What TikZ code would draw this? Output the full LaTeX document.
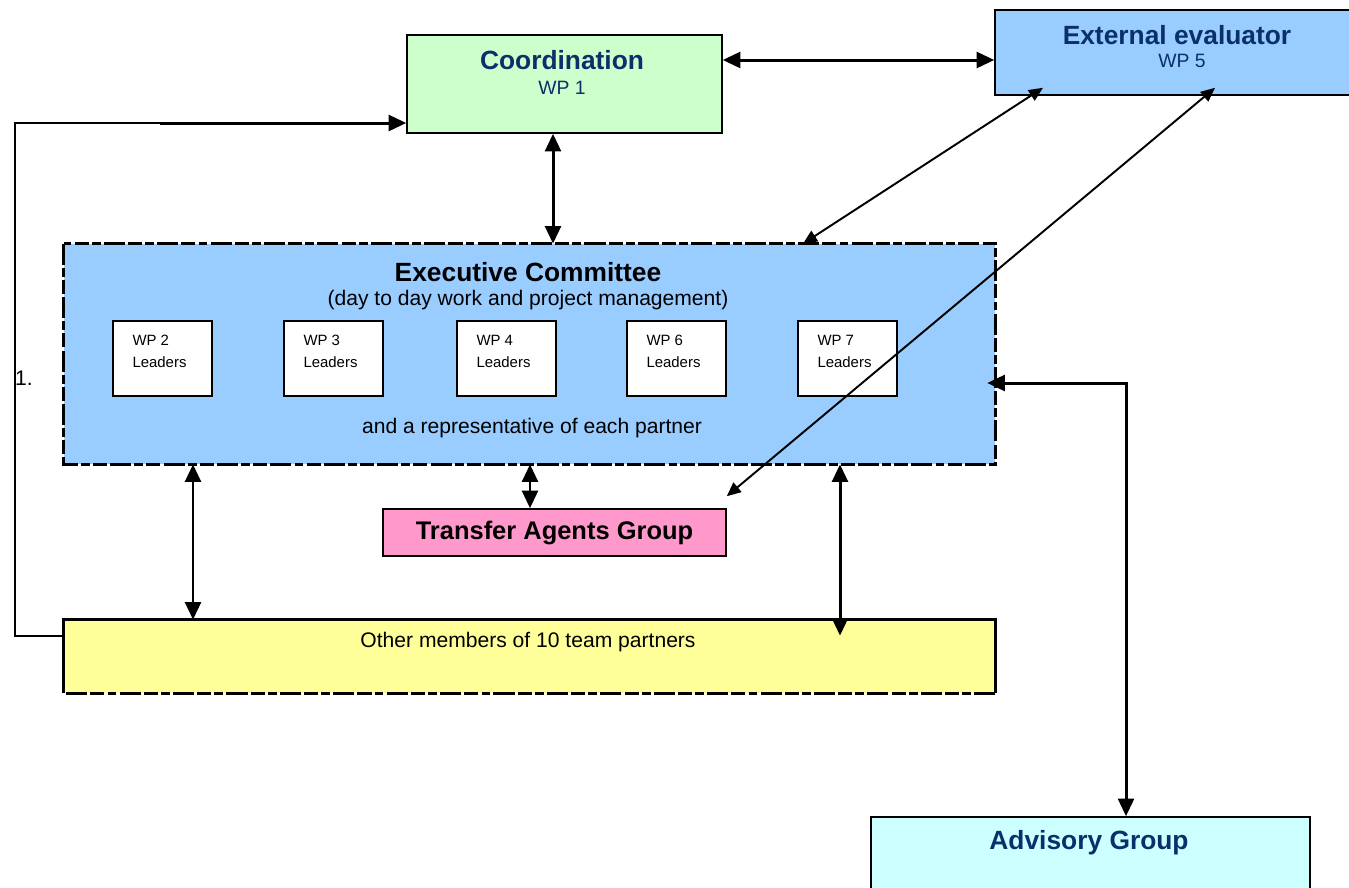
\documentclass[tikz,border=0pt]{standalone}
\usepackage{fontspec}
\setmainfont{Liberation Sans}
\usetikzlibrary{arrows.meta,calc,positioning}
\definecolor{navy}{HTML}{0B2F6B}
\definecolor{coordgreen}{HTML}{CCFFCC}
\definecolor{evalblue}{HTML}{99CCFF}
\definecolor{agentpink}{HTML}{FF99CC}
\definecolor{memberyellow}{HTML}{FFFF99}
\definecolor{advicecyan}{HTML}{CCFFFF}

\begin{document}
\begin{tikzpicture}[x=0.02cm,y=-0.02cm,
    box/.style={draw,line width=0.9pt,inner sep=0pt},
    dbl/.style={{Triangle[length=10pt,width=9pt]}-{Triangle[length=10pt,width=9pt]},line width=1.7pt},
    thindbl/.style={{Triangle[length=8pt,width=7pt]}-{Triangle[length=8pt,width=7pt]},line width=1.1pt},
    title/.style={font=\fontsize{15}{17}\selectfont\bfseries},
    plain/.style={font=\fontsize{12}{14}\selectfont},
    wplabel/.style={font=\fontsize{11}{13}\selectfont,text=navy},
    wpbox/.style={draw,fill=white,line width=0.9pt,minimum width=1.98cm,minimum height=1.5cm,inner sep=0pt},
    border/.style={line width=1.7pt,dash pattern=on 12pt off 1.8pt on 5pt off 1.8pt on 8pt off 1.8pt}]
    \clip (0,0) rectangle (1349,887);
    % top row
    \node[box,fill=coordgreen,minimum width=6.3cm,minimum height=1.96cm] (coord) at (564.5,84) {};
    \node[title,text=navy] (coordtitle) at (562,60) {Coordination};
    \node[wplabel] (coordwp) at (562,88) {WP 1};
    \node[box,fill=evalblue,minimum width=7.3cm,minimum height=1.7cm] (eval) at (1177.5,52.5) {};
    \node[title,text=navy] (evaltitle) at (1177,35) {External evaluator};
    \node[wplabel] (evalwp) at (1182,61) {WP 5};
    % executive committee
    \node[fill=evalblue,minimum width=18.62cm,minimum height=4.4cm,inner sep=0pt] (exec) at (529.5,354) {};
    \draw[border] (exec.north west) rectangle (exec.south east);
    \node[title] (exectitle) at (528,272) {Executive Committee};
    \node[plain] (execsub) at (528,300) {(day to day work and project management)};
    \node[plain] (execrep) at (532,428) {and a representative of each partner};
    \foreach \n/\x in {2/162.5,3/333.5,4/506.5,6/676.5,7/847.5} {
        \node[wpbox] (wp\n) at (\x,358.5) {};
        \node[font=\fontsize{8.5}{12.5}\selectfont,align=left] (wptext\n) at (\x-3,351.5) {WP \n\\Leaders};
    }
    % lower boxes
    \node[box,fill=agentpink,minimum width=6.86cm,minimum height=0.94cm,font=\fontsize{14.5}{16}\selectfont\bfseries] (agents) at (554.5,532.5) {Transfer Agents Group};
    \node[fill=memberyellow,minimum width=18.62cm,minimum height=1.46cm,inner sep=0pt] (other) at (529.5,656.5) {};
    \draw[line width=1.7pt] (other.south west) -- (other.north west) -- (other.north east) -- (other.south east);
    \draw[border] (other.south east) -- (other.south west);
    \node[plain] (othertext) at (528,642) {Other members of 10 team partners};
    \node[box,fill=advicecyan,minimum width=8.78cm,minimum height=1.66cm] (advisory) at (1090.5,858.5) {};
    \node[title,text=navy] (advisorytitle) at (1089,843) {Advisory Group};
    \node[plain] (one) at (24,378) {1.};
    % connectors
    \draw[dbl] (coord.east |- 0,60) -- (eval.west |- 0,60);
    \draw[dbl] (coord.south -| 553,0) -- (exec.north -| 553,0);
    \draw[thindbl] ($(eval.south -| 1043,0)+(0,-8)$) -- (exec.north -| 803,0);
    \draw[thindbl] ($(eval.south -| 1215,0)+(0,-8)$) -- ($(agents.north east)+(0,-12)$);
    \draw[dbl] (exec.south -| 530,0) -- (agents.north -| 530,0);
    \draw[dbl] (exec.south -| 193,0) -- (other.north -| 193,0);
    \draw[dbl] (exec.south -| 840,0) -- ($(other.north -| 840,0)+(0,16)$);
    \draw[dbl] ($(exec.east |- 0,383)+(-8,0)$) -| (advisory.north -| 1126,0);
    \coordinate (kink) at (160,123);
    \draw[line width=0.6pt] (other.west |- 0,636) -| (15,123) -- (kink);
    \draw[line width=1.7pt,-{Triangle[length=10pt,width=9pt]}] (kink) -- (coord.west |- kink);
\end{tikzpicture}
\end{document}
